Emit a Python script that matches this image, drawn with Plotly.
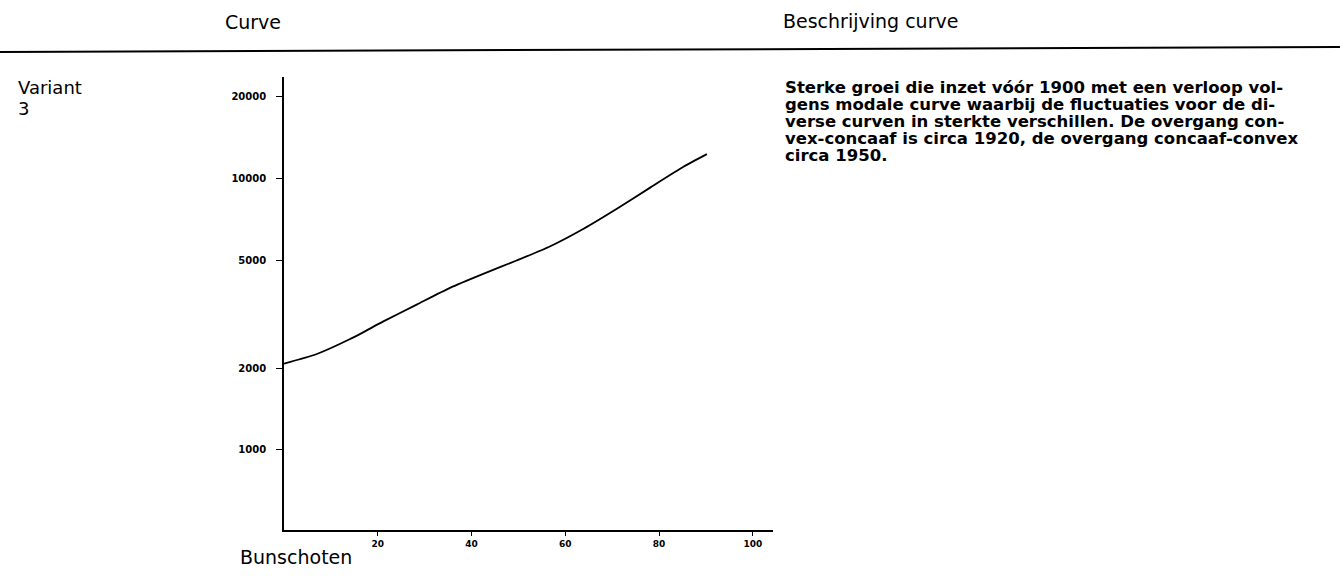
import plotly.graph_objects as go

# Data (Bunschoten, variant 3, log y-scale)
x_vals = [0, 7.0, 14.1, 21.2, 28.3, 35.4, 42.5, 49.6, 56.8, 63.9, 71.0, 78.1, 85.2, 90.2]
y_vals = [2077, 2254, 2559, 2972, 3428, 3951, 4448, 4980, 5621, 6520, 7725, 9240, 11020, 12270]
x_ticks = [20, 40, 60, 80, 100]
y_ticks = [1000, 2000, 5000, 10000, 20000]
y_ticklabels = ["1000", "2000", "5000", "10000", "20000"]

desc_lines = ["Sterke groei die inzet vóór 1900 met een verloop vol-",
              "gens modale curve waarbij de fluctuaties voor de di-",
              "verse curven in sterkte verschillen. De overgang con-",
              "vex-concaaf is circa 1920, de overgang concaaf-convex",
              "circa 1950."]

W, H = 1340, 584
L, R, T, B = 284, 773, 77, 530


def px(x):
    return (x - L) / (R - L)


def py(y):
    return (B - y) / (B - T)


fig = go.Figure()
fig.add_trace(go.Scatter(x=x_vals, y=y_vals, mode="lines",
                         line=dict(color="black", width=1.8, shape="spline", smoothing=0.6),
                         showlegend=False, hoverinfo="skip"))

ytf = dict(size=10, family="DejaVu Sans", color="black", weight="bold")
xtf = dict(size=9, family="DejaVu Sans", color="black", weight="bold")
fig.update_layout(
    width=W, height=H,
    margin=dict(l=L, r=W - R, t=T, b=H - B, pad=0),
    paper_bgcolor="white", plot_bgcolor="white",
    font=dict(family="DejaVu Sans", color="black"),
    xaxis=dict(range=[0, 104.3], tickvals=x_ticks, showgrid=False, zeroline=False,
               showline=True, linecolor="black", linewidth=1.6,
               ticks="outside", ticklen=4, tickcolor="black", tickwidth=1,
               tickfont=xtf),
    yaxis=dict(type="log", range=[2.705, 4.373], tickvals=y_ticks, ticktext=y_ticklabels,
               showgrid=False, zeroline=False,
               showline=True, linecolor="black", linewidth=1.6,
               ticks="outside", ticklen=6, tickcolor="black", tickwidth=1,
               ticklabelstandoff=8, tickfont=ytf),
)

# header rule
fig.add_shape(type="line", xref="paper", yref="paper",
              x0=px(0), x1=px(1340), y0=py(52), y1=py(47),
              line=dict(color="black", width=2))

anns = [
    dict(text="Curve", x=px(223), y=py(22), size=19),
    dict(text="Beschrijving curve", x=px(781), y=py(21), size=19),
    dict(text="Variant", x=px(16), y=py(87), size=18),
    dict(text="3", x=px(16), y=py(108), size=18),
    dict(text="Bunschoten", x=px(238), y=py(557), size=19),
]
for i, line in enumerate(desc_lines):
    anns.append(dict(text=line, x=px(783), y=py(87 + 17.2 * i), size=16.5, bold=True))

for a in anns:
    f = dict(size=a["size"], family="DejaVu Sans", color="black")
    if a.get("bold"):
        f["weight"] = "bold"
    fig.add_annotation(text=a["text"], xref="paper", yref="paper", x=a["x"], y=a["y"],
                       xanchor="left", yanchor="middle", align="left", showarrow=False,
                       font=f)

fig.write_html("out.html")
